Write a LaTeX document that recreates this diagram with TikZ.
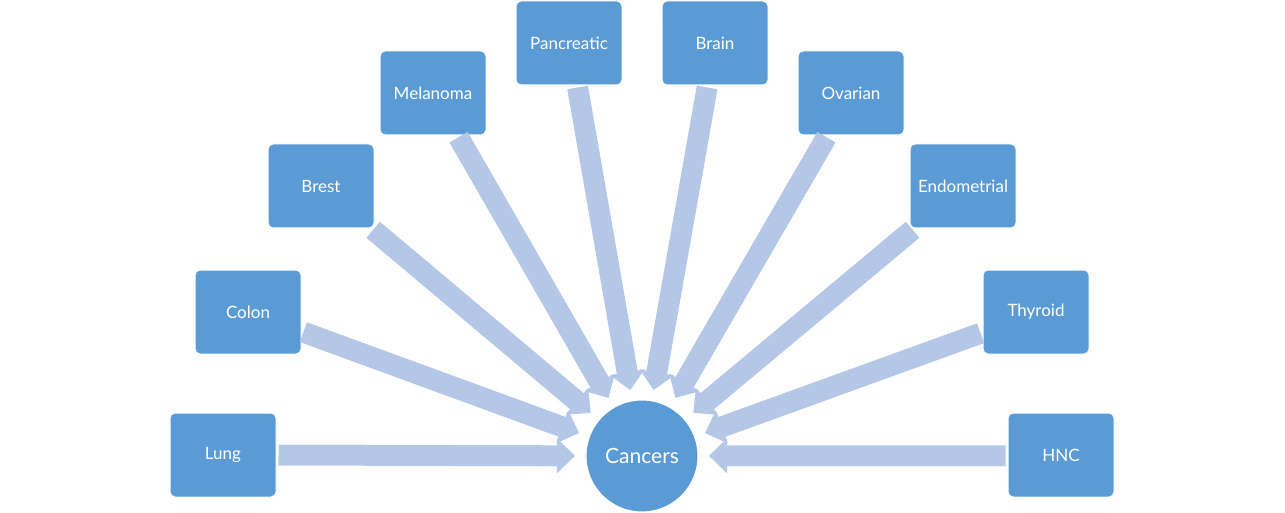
\documentclass[tikz,border=0pt]{standalone}
\usepackage{fontspec}
\setmainfont{Lato}
\usetikzlibrary{calc}
\definecolor{boxblue}{HTML}{5B9BD5}
\definecolor{arrowblue}{HTML}{B4C7E7}
\tikzset{
  cbox/.style={rectangle, rounded corners=5pt, fill=boxblue, draw=white, line width=1pt,
    minimum width=106pt, minimum height=84pt, inner sep=0pt, text=white, font=\fontsize{17pt}{20pt}\selectfont},
  hub/.style={circle, fill=boxblue, draw=white, line width=1pt, minimum size=112pt, inner sep=0pt,
    text=white, font=\fontsize{21pt}{25pt}\selectfont},
  bigarrow/.style={fill=arrowblue}
}
\begin{document}
\begin{tikzpicture}[x=1pt, y=-1pt]
\useasboundingbox (0,0) rectangle (1285,513);
\node[hub] (C) at (642,456) {Cancers};
\node[cbox] (lung) at (223,455) {Lung};
\node[cbox] (colon) at (248,312) {Colon};
\node[cbox] (brest) at (321,186) {Brest};
\node[cbox] (mel) at (433,93) {Melanoma};
\node[cbox] (pan) at (569,43) {Pancreatic};
\node[cbox] (brain) at (715,43) {Brain};
\node[cbox] (ova) at (851,93) {Ovarian};
\node[cbox] (endo) at (963,186) {Endometrial};
\node[cbox] (thy) at (1036,312) {Thyroid};
\node[cbox] (hnc) at (1061,455) {HNC};
\foreach \s in {lung,colon,brest,mel,pan,brain,ova,endo,thy,hnc}{
  \path let \p1=($(C)-(\s)$), \n1={atan2(\y1,\x1)} in
    ($(\s.\n1)!2pt!(C)$) coordinate (A-\s);
  \coordinate (T-\s) at ($(C)!67pt!(\s)$);
  \coordinate (H-\s) at ($(T-\s)!18pt!(A-\s)$);
  \fill[bigarrow] ($(A-\s)!10.5pt!90:(T-\s)$) -- ($(H-\s)!10.5pt!90:(T-\s)$)
    -- ($(H-\s)!17.5pt!90:(T-\s)$) -- (T-\s) -- ($(H-\s)!17.5pt!-90:(T-\s)$)
    -- ($(H-\s)!10.5pt!-90:(T-\s)$) -- ($(A-\s)!10.5pt!-90:(T-\s)$) -- cycle;
}
\end{tikzpicture}
\end{document}
